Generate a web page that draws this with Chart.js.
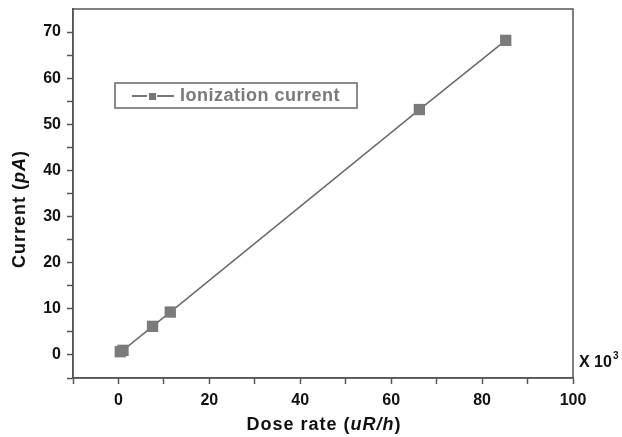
<!DOCTYPE html>
<html>
<head>
<meta charset="utf-8">
<script src="https://cdn.jsdelivr.net/npm/chart.js@4/dist/chart.umd.min.js"></script>
<style>
  html, body { margin: 0; padding: 0; background: #fff; }
  #wrap { width: 622px; height: 437px; }
</style>
</head>
<body>
<div id="wrap"><canvas id="myChart" width="622" height="437"></canvas></div>
<script>
// values (dose rate in units of 10^3 uR/h)
const doseRate = [0.4, 1.0, 7.5, 11.4, 66.2, 85.2];
const current  = [0.7, 1.0, 6.2, 9.3, 53.2, 68.2];
const seriesName = 'Ionization current';

const FONT = '"Liberation Sans", Arial, sans-serif';
const AXIS = '#555';

// frame, axis titles, legend box and the "X 10^3" note
const extras = {
  id: 'extras',
  afterDraw(chart) {
    const { ctx, chartArea: a } = chart;
    ctx.save();
    ctx.strokeStyle = AXIS;
    ctx.lineWidth = 1.5;
    ctx.strokeRect(a.left, a.top, a.right - a.left, a.bottom - a.top);

    // mixed upright/italic title text
    const parts = (list, x, y) => {
      ctx.letterSpacing = '1px';
      let w = 0;
      list.forEach(p => { ctx.font = p[1] + ' 18px ' + FONT; w += ctx.measureText(p[0]).width; });
      let cx = x - w / 2;
      list.forEach(p => {
        ctx.font = p[1] + ' 18px ' + FONT;
        ctx.fillText(p[0], cx, y);
        cx += ctx.measureText(p[0]).width;
      });
      ctx.letterSpacing = '0px';
    };
    ctx.fillStyle = '#111';
    ctx.textBaseline = 'middle';
    ctx.textAlign = 'left';
    parts([['Dose rate (', 'bold'], ['uR/h', 'italic bold'], [')', 'bold']], 324, 425);
    ctx.save();
    ctx.translate(20, 209);
    ctx.rotate(-Math.PI / 2);
    parts([['Current (', 'bold'], ['pA', 'italic bold'], [')', 'bold']], 0, 0);
    ctx.restore();

    ctx.font = 'bold 16px ' + FONT;
    ctx.fillText('X 10', 579, 363);
    const w10 = ctx.measureText('X 10').width;
    ctx.font = 'bold 10px ' + FONT;
    ctx.fillText('3', 579 + w10 + 1, 356);

    // legend
    ctx.strokeStyle = '#666';
    ctx.lineWidth = 1.5;
    ctx.strokeRect(115, 83, 242, 25);
    ctx.strokeStyle = '#777';
    ctx.lineWidth = 2;
    ctx.beginPath();
    ctx.moveTo(132, 96); ctx.lineTo(147, 96);
    ctx.moveTo(157, 96); ctx.lineTo(174, 96);
    ctx.stroke();
    ctx.fillStyle = '#777';
    ctx.fillRect(149, 93, 7, 7);
    ctx.fillStyle = '#7a7a7a';
    ctx.font = 'bold 18px ' + FONT;
    ctx.letterSpacing = '0.5px';
    ctx.fillText(chart.data.datasets[0].label, 180, 96);
    ctx.restore();
  }
};

const ctx = document.getElementById('myChart');
const config = {
  type: 'line',
  data: {
    datasets: [{
      label: seriesName,
      data: doseRate.map((x, i) => ({ x: x, y: current[i] })),
      borderColor: '#6a6a6a',
      borderWidth: 1.5,
      backgroundColor: '#7b7b7b',
      pointStyle: 'rect',
      pointRadius: 8,
      pointBorderWidth: 0,
      tension: 0
    }]
  },
  options: {
    responsive: false,
    animation: false,
    layout: { padding: { top: 9, right: 49, left: 0, bottom: 0 } },
    plugins: { legend: { display: false }, tooltip: { enabled: false } },
    scales: {
      x: {
        type: 'linear',
        min: -10, max: 100,
        border: { color: AXIS, width: 1.5 },
        grid: { drawOnChartArea: false, drawTicks: true, tickLength: 6, tickColor: AXIS, tickWidth: 1.5 },
        ticks: {
          stepSize: 10,
          autoSkip: false,
          maxRotation: 0,
          padding: 7,
          color: '#111',
          font: { family: FONT, size: 16, weight: 'bold' },
          callback: v => (v % 20 === 0 && v >= 0) ? String(v) : ''
        },
        afterFit: s => { s.height = 59; s.paddingLeft = 0; s.paddingRight = 0; }
      },
      y: {
        min: -5, max: 75,
        border: { color: AXIS, width: 1.5 },
        grid: {
          drawOnChartArea: false, drawTicks: true, tickLength: 6, tickWidth: 1.5,
          tickColor: c => c.tick && c.tick.value === 75 ? 'rgba(0,0,0,0)' : AXIS
        },
        ticks: {
          stepSize: 5,
          autoSkip: false,
          padding: 6,
          color: '#111',
          font: { family: FONT, size: 16, weight: 'bold' },
          callback: v => (v % 10 === 0 && v >= 0 && v <= 70) ? String(v) : ''
        },
        afterFit: s => { s.width = 73; s.paddingTop = 0; s.paddingBottom = 0; }
      }
    }
  },
  plugins: [extras]
};
let chart = new Chart(ctx, config);
</script>
</body>
</html>
